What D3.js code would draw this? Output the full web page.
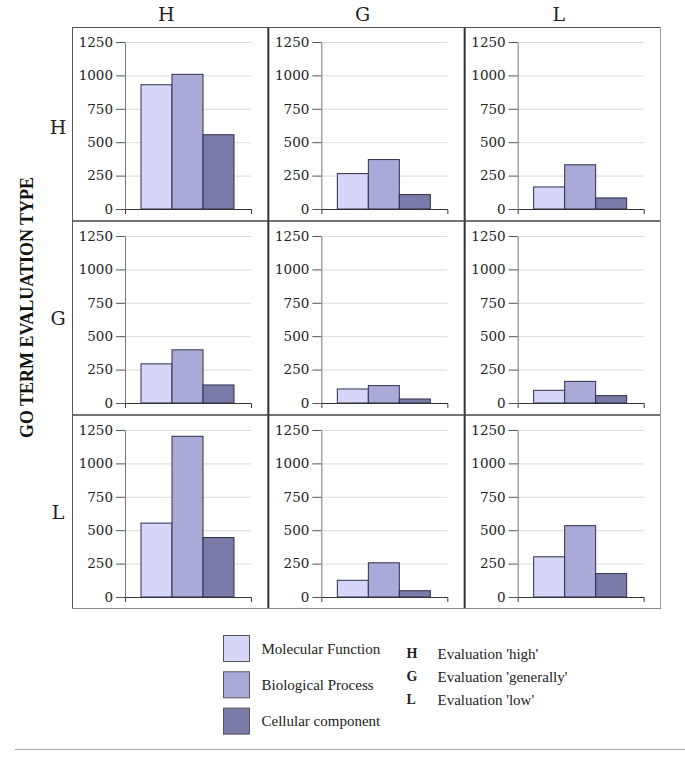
<!DOCTYPE html>
<html><head><meta charset="utf-8">
<script src="https://cdn.jsdelivr.net/npm/d3@7/dist/d3.min.js"></script>
<style>body{margin:0;background:#fff}svg{display:block}</style>
</head><body>
<svg id="chart" width="685" height="767"></svg>
<script>
// ---- data ----
const evalTypes = ["H", "G", "L"];               // rows (GO term evaluation) and columns
const series = ["Molecular Function", "Biological Process", "Cellular component"];
// values[row][col]
const molecularFunction = [[930, 265, 165], [293, 105, 95], [553, 125, 301]];
const biologicalProcess = [[1008, 370, 331], [398, 130, 162], [1203, 256, 534]];
const cellularComponent = [[556, 108, 83], [135, 30, 55], [445, 47, 175]];
const yTicks = [0, 250, 500, 750, 1000, 1250];
const evalDescriptions = ["Evaluation 'high'", "Evaluation 'generally'", "Evaluation 'low'"];
const colors = ["#d6d7f8", "#a9aad8", "#7a7ba8"];
const yTitle = "GO TERM EVALUATION TYPE";

const seriesValues = [molecularFunction, biologicalProcess, cellularComponent];

const svg = d3.select("#chart");
const serif = "'Liberation Serif','Times New Roman',serif";
const dserif = "'DejaVu Serif',serif";

const colScale = d3.scaleBand().domain(evalTypes).range([72, 661]);
const rowScale = d3.scaleBand().domain(evalTypes).range([27, 609]);

const plotLeft = 53, plotW = 126, plotTop = 15, plotH = 167;
const y = d3.scaleLinear().domain([0, 1250]).range([plotH, 0]);

evalTypes.forEach((rowKey, ri) => {
  evalTypes.forEach((colKey, ci) => {
    const g = svg.append("g")
      .attr("transform", `translate(${colScale(colKey) + plotLeft},${rowScale(rowKey) + plotTop})`);
    // grid
    g.selectAll("line.grid").data(yTicks.filter(t => t > 0)).join("line")
      .attr("x1", 0).attr("x2", plotW)
      .attr("y1", d => y(d) + 0.5).attr("y2", d => y(d) + 0.5)
      .attr("stroke", "#dcdcdc").attr("stroke-width", 1);
    // bars
    const x = d3.scaleBand().domain(series).range([16, 109]);
    g.selectAll("rect.bar").data(series.map((s, si) => ({s, v: seriesValues[si][ri][ci], c: colors[si]})))
      .join("rect")
      .attr("x", d => x(d.s)).attr("width", x.bandwidth())
      .attr("y", d => y(d.v)).attr("height", d => y(0) - y(d.v))
      .attr("fill", d => d.c).attr("stroke", "#2e2e4a").attr("stroke-width", 1);
    // y axis
    const ya = g.append("g").call(d3.axisLeft(y).tickValues(yTicks).tickFormat(d3.format("d"))
      .tickSize(9).tickSizeOuter(0).tickPadding(3));
    ya.select(".domain").attr("stroke", "#777");
    ya.selectAll(".tick line").attr("stroke", "#555");
    ya.selectAll("text").attr("font-family", dserif).attr("font-size", 13.5).attr("fill", "#222");
    // x axis
    const xa = g.append("g").attr("transform", `translate(0,${plotH})`)
      .call(d3.axisBottom(d3.scaleBand().domain(["all"]).range([0, plotW])).tickValues([]).tickSizeOuter(5));
    xa.select(".domain").attr("stroke", "#333");
  });
});

// cell borders
const gb = svg.append("g");
colScale.domain().slice(1).forEach(c => {
  gb.append("line").attr("x1", colScale(c)).attr("x2", colScale(c))
    .attr("y1", 27).attr("y2", 609).attr("stroke", "#333").attr("stroke-width", 2);
});
rowScale.domain().slice(1).forEach(r => {
  gb.append("line").attr("x1", 72).attr("x2", 661)
    .attr("y1", rowScale(r)).attr("y2", rowScale(r)).attr("stroke", "#444").attr("stroke-width", 1.3);
});
gb.append("line").attr("x1", 72.5).attr("x2", 72.5).attr("y1", 27).attr("y2", 609).attr("stroke", "#555");
gb.append("line").attr("x1", 72).attr("x2", 661).attr("y1", 27.5).attr("y2", 27.5).attr("stroke", "#555");
gb.append("line").attr("x1", 660.5).attr("x2", 660.5).attr("y1", 27).attr("y2", 609).attr("stroke", "#999");
gb.append("line").attr("x1", 72).attr("x2", 661).attr("y1", 608.5).attr("y2", 608.5).attr("stroke", "#888");

// column headers
svg.selectAll("text.colh").data(evalTypes).join("text")
  .attr("x", d => colScale(d) + colScale.bandwidth() / 2 - 4).attr("y", 21)
  .attr("text-anchor", "middle").attr("font-family", dserif).attr("font-size", 19).attr("fill", "#222")
  .text(d => d);
// row headers
svg.selectAll("text.rowh").data(evalTypes).join("text")
  .attr("x", 58).attr("y", d => rowScale(d) + rowScale.bandwidth() / 2 + 7 + (d === "H" ? 3 : 0))
  .attr("text-anchor", "middle").attr("font-family", dserif).attr("font-size", 19).attr("fill", "#222")
  .text(d => d);
// y title
svg.append("text").attr("transform", "translate(33,307.5) rotate(-90)")
  .attr("text-anchor", "middle").attr("font-family", serif).attr("font-weight", "bold")
  .attr("font-size", 18).attr("fill", "#111").text(yTitle);

// legend (series)
const lg = svg.append("g");
series.forEach((s, i) => {
  const yy = 635 + i * 36.3;
  lg.append("rect").attr("x", 223.5).attr("y", yy + 0.5).attr("width", 26).attr("height", 26)
    .attr("fill", colors[i]).attr("stroke", "#555").attr("stroke-width", 1);
  lg.append("text").attr("x", 261.5).attr("y", yy + 13.5).attr("dy", "0.35em")
    .attr("font-family", serif).attr("font-size", 15).attr("fill", "#222").text(s);
});
// legend (evaluation types)
evalTypes.forEach((e, i) => {
  const yy = 653.5 + i * 23;
  lg.append("text").attr("x", 406.5).attr("y", yy).attr("dy", "0.35em")
    .attr("font-family", serif).attr("font-weight", "bold").attr("font-size", 14).attr("fill", "#222").text(e);
  lg.append("text").attr("x", 437.5).attr("y", yy).attr("dy", "0.35em")
    .attr("font-family", serif).attr("font-size", 15).attr("fill", "#222").text(evalDescriptions[i]);
});

// bottom rule
svg.append("line").attr("x1", 15).attr("x2", 685).attr("y1", 749.5).attr("y2", 749.5)
  .attr("stroke", "#aaa").attr("stroke-width", 1);
</script>
</body></html>
